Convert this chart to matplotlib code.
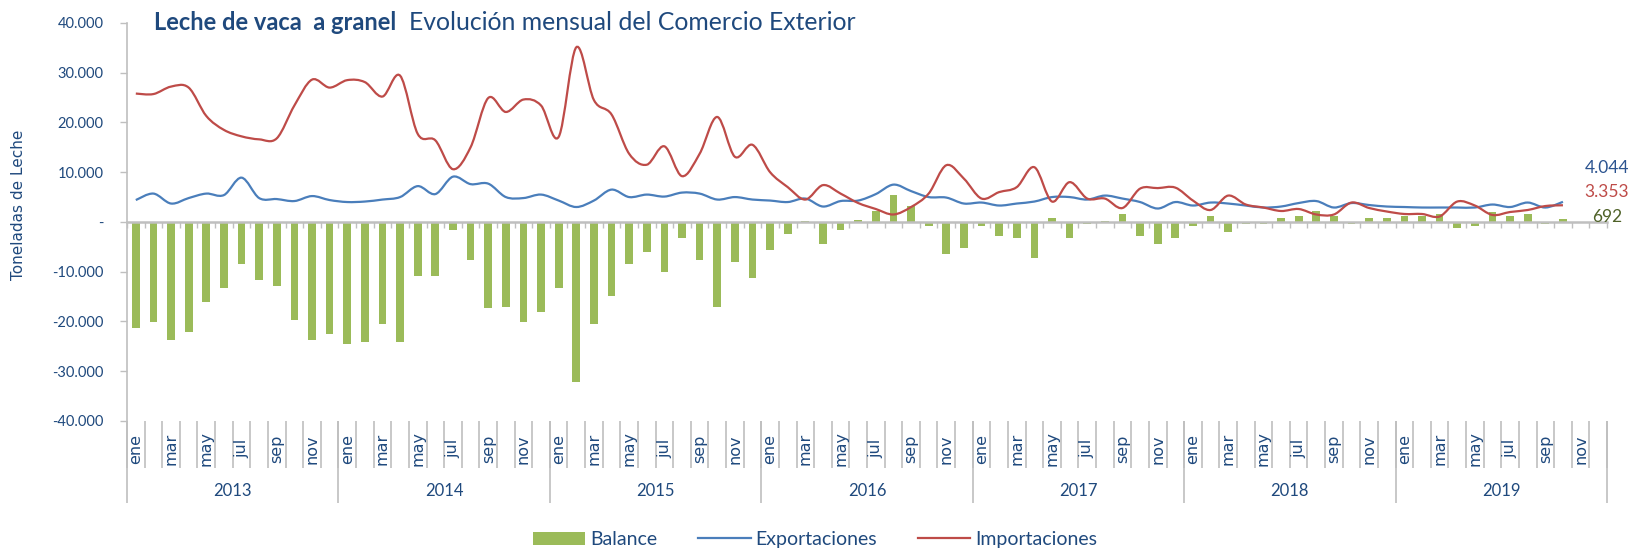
import numpy as np
import matplotlib.pyplot as plt
from matplotlib.path import Path
from matplotlib.patches import PathPatch, Patch
from matplotlib.lines import Line2D
from matplotlib.ticker import FuncFormatter

plt.rcParams['font.family'] = ['Lato', 'DejaVu Sans']

# Datos (toneladas), ene 2013 - oct 2019
years = ['2013', '2014', '2015', '2016', '2017', '2018', '2019']
month_labels = ['ene', '', 'mar', '', 'may', '', 'jul', '', 'sep', '', 'nov', '']

balance = [-21400, -20200, -23700, -22200, -16100, -13200, -8500, -11700, -12900, -19800, -23700, -22500,
           -24600, -24200, -20600, -24200, -10900, -10900, -1600, -7600, -17300, -17000, -20200, -18100,
           -13200, -32200, -20600, -14900, -8500, -6100, -10100, -3300, -7600, -17000, -8100, -11300,
           -5600, -2500, 200, -4500, -1600, 400, 2300, 5500, 3200, -800, -6400, -5200,
           -800, -2900, -3300, -7300, 700, -3300, -500, 100, 1500, -2900, -4400, -3300,
           -900, 1100, -2100, -500, -500, 700, 1100, 2300, 1100, -500, 700, 700,
           1100, 1100, 1500, -1300, -900, 1900, 1100, 1500, -500, 692]

exportaciones = [4400, 5700, 3700, 4800, 5700, 5400, 8900, 4800, 4600, 4200, 5200, 4400,
                 4000, 4100, 4500, 5000, 7200, 5600, 9100, 7600, 7700, 5000, 4800, 5500,
                 4300, 3000, 4300, 6500, 5000, 5500, 5100, 5900, 5700, 4500, 5000, 4500,
                 4300, 4000, 4700, 3100, 4200, 4300, 5600, 7500, 6200, 5000, 4900, 3700,
                 3900, 3300, 3700, 4100, 5000, 5000, 4500, 5300, 4700, 4000, 2700, 4000,
                 3300, 3900, 3700, 3300, 2900, 3100, 3800, 4200, 2900, 3800, 3400, 3100,
                 3000, 2900, 2900, 2900, 2900, 3500, 3000, 3900, 2900, 4044]

importaciones = [25800, 25700, 27200, 27000, 21300, 18500, 17200, 16600, 16800, 23400, 28600, 27000,
                 28500, 28100, 25200, 29400, 17700, 16400, 10600, 15000, 24900, 22100, 24600, 23400,
                 17100, 35100, 24500, 21600, 13700, 11500, 15200, 9200, 13700, 21100, 13100, 15500,
                 10000, 7000, 4500, 7400, 5700, 3800, 2600, 1500, 3000, 5700, 11400, 8700,
                 4700, 6000, 7000, 11000, 4100, 8000, 4700, 4700, 2800, 6700, 6800, 6900,
                 4300, 2400, 5300, 3500, 2900, 2200, 2600, 1500, 1500, 3900, 2800, 2100,
                 1600, 1600, 1100, 4100, 3300, 1400, 2000, 2400, 3200, 3353]

GREEN = '#9BBB59'
BLUE = '#4A7EBB'
RED = '#BE4B48'
NAVY = '#1F497D'
GRAY = '#BFBFBF'

W, H = 1630, 549
x = np.arange(len(balance))
n_cat = len(years) * 12


def smooth_path(xs, ys):
    # curva suavizada tipo Excel (Bezier por los puntos)
    pts = np.column_stack([xs, ys]).astype(float)
    verts = [pts[0]]
    codes = [Path.MOVETO]
    last = len(pts) - 1
    for k in range(last):
        p0 = pts[max(k - 1, 0)]
        p1 = pts[k]
        p2 = pts[k + 1]
        p3 = pts[min(k + 2, last)]
        verts += [p1 + (p2 - p0) / 6, p2 - (p3 - p1) / 6, p2]
        codes += [Path.CURVE4] * 3
    return Path(verts, codes)


fig = plt.figure(figsize=(W / 100, H / 100), dpi=100)
ax = fig.add_axes([127 / W, 1 - 421 / H, (1607 - 127) / W, (421 - 22.9) / H])

ax.bar(x, balance, width=0.44, color=GREEN, zorder=2)
ax.add_patch(PathPatch(smooth_path(x, exportaciones), fill=False, edgecolor=BLUE, lw=1.6, zorder=3))
ax.add_patch(PathPatch(smooth_path(x, importaciones), fill=False, edgecolor=RED, lw=1.6, zorder=4))

ax.set_xlim(-0.5, n_cat - 0.5)
ax.set_ylim(-40000, 40000)

for s in ['top', 'right']:
    ax.spines[s].set_visible(False)
ax.spines['left'].set_color(GRAY)
ax.spines['left'].set_linewidth(1.2)
ax.spines['bottom'].set_position(('data', 0))
ax.spines['bottom'].set_color(GRAY)
ax.spines['bottom'].set_linewidth(1.8)

ax.set_xticks(np.arange(-0.5, n_cat, 1))
ax.tick_params(axis='x', direction='out', length=4, width=1, color=GRAY, labelbottom=False)

ax.set_yticks(range(-40000, 40001, 10000))
ax.yaxis.set_major_formatter(FuncFormatter(
    lambda v, p: '-' if v == 0 else f'{int(v):,}'.replace(',', '.')))
ax.tick_params(axis='y', direction='out', length=5, width=1, color=GRAY,
               labelcolor=NAVY, labelsize=10.5, pad=12)

# eje de categorías (meses / años) en la parte inferior
tr = ax.get_xaxis_transform()
ax.vlines(np.arange(-0.5, n_cat, 1), -0.118, 0, transform=tr, colors=GRAY, lw=1.2, clip_on=False)
ax.vlines(np.arange(-0.5, n_cat + 1, 12), -0.206, 0, transform=tr, colors=GRAY, lw=1.2, clip_on=False)
for i in range(n_cat):
    lab = month_labels[i % 12]
    if lab:
        ax.text(i, -0.07, lab, transform=tr, rotation=90, ha='center', va='center',
                family='DejaVu Sans', fontsize=11.5, color=NAVY)
for k, yr in enumerate(years):
    ax.text(12 * k + 5.5, -0.176, yr, transform=tr, ha='center', va='center',
            fontsize=12, color=NAVY)

# etiquetas del último dato
last = len(balance) - 1
ax.annotate(f'{exportaciones[last]:,}'.replace(',', '.'), (last, exportaciones[last]),
            xytext=(44, 34), textcoords='offset pixels', ha='center', va='center',
            fontsize=12.5, color='#2C5490')
ax.annotate(f'{importaciones[last]:,}'.replace(',', '.'), (last, importaciones[last]),
            xytext=(44, 13), textcoords='offset pixels', ha='center', va='center',
            fontsize=12.5, color=RED)
ax.annotate(f'{balance[last]:,}'.replace(',', '.'), (last, balance[last]),
            xytext=(44, 2), textcoords='offset pixels', ha='center', va='center',
            fontsize=12.5, color='#4F6228')

fig.text(19 / W, 1 - 205 / H, 'Toneladas de Leche', rotation=90, ha='center', va='center',
         family='DejaVu Sans', fontsize=11, color=NAVY)

t1 = fig.text(154 / W, 1 - 22 / H, 'Leche de vaca  a granel', fontsize=17, weight='bold',
              color=NAVY, va='center', ha='left')
fig.canvas.draw()
bb = t1.get_window_extent()
fig.text((bb.x1 + 13) / W, 1 - 22 / H, 'Evolución mensual del Comercio Exterior', fontsize=17.8,
         color=NAVY, va='center', ha='left')

handles = [Patch(facecolor=GREEN), Line2D([], [], color=BLUE, lw=1.6), Line2D([], [], color=RED, lw=1.6)]
fig.legend(handles, ['Balance', 'Exportaciones', 'Importaciones'], loc='center',
           bbox_to_anchor=(0.5, 0.017), ncol=3, frameon=False, fontsize=14,
           handlelength=2.7, handletextpad=0.25, columnspacing=2.1, labelcolor=NAVY)

fig.savefig('out.png', dpi=100)
